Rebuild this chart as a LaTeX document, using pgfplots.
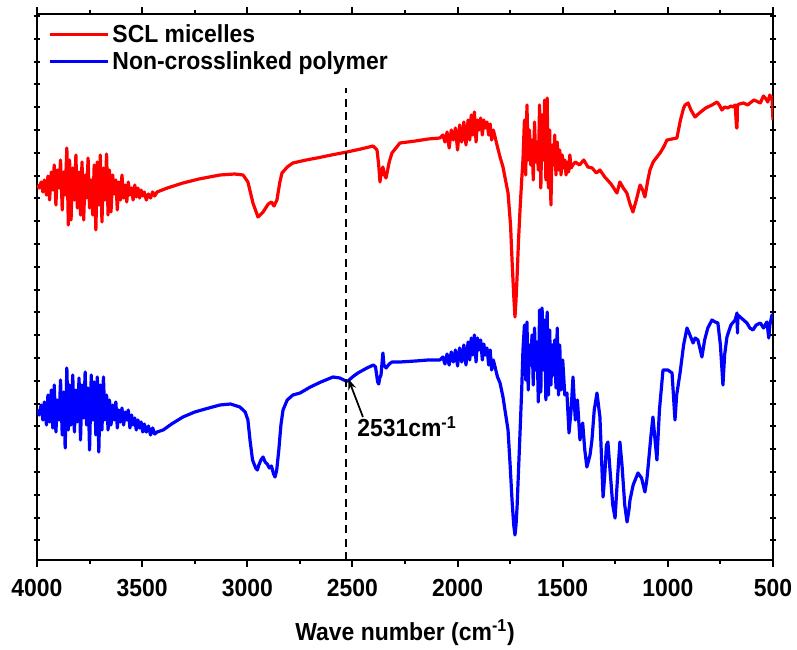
\documentclass[border=0pt]{standalone}
\usepackage{fontspec}
\setmainfont{Liberation Sans}[FakeStretch=0.93]
\usepackage{pgfplots}
\pgfplotsset{compat=1.18}
\usetikzlibrary{arrows.meta}
\begin{document}
\begin{tikzpicture}
\begin{axis}[
  scale only axis, width=552pt, height=409.5pt,
  at={(0,0)}, anchor=south west,
  x dir=reverse, xmin=500, xmax=4000, ymin=0, ymax=546,
  xtick={500,1000,...,4000}, minor x tick num=1,
  ytick={19.6,42.4,...,544}, yticklabels={},
  xtick align=outside, ytick align=center,
  major tick length=5pt, minor tick length=3pt,
  every tick/.style={black, line width=1.5pt},
  axis line style={line width=2.2pt},
  tick label style={font=\fontsize{18.5}{20}\selectfont\bfseries},
  xticklabel style={yshift=-6pt},
  /pgf/number format/assume math mode=true,
  /pgf/number format/set thousands separator={},
  label style={font=\fontsize{18.5}{20}\selectfont\bfseries},
  xlabel={Wave number (cm\textsuperscript{-1})},
  xlabel style={yshift=-10.5pt},
  legend style={draw=none, fill=none, at={(0,1)}, anchor=north west, xshift=5pt, yshift=-4pt,
    font=\fontsize{18.5}{20}\selectfont\bfseries, row sep=1pt, cells={anchor=west}},
  legend image code/.code={\draw[#1] (0pt,0pt) -- (44pt,0pt);},
  every axis plot/.append style={line width=2.4pt, line join=round},
]
% SCL micelles
\addplot[red] coordinates {
(4000,375)(3990,372)(3980,378)(3972,368)(3965,380)(3955,365)(3948,384)(3940,360)(3932,388)(3925,370)
(3918,395)(3910,355)(3903,390)(3895,372)(3888,400)(3880,350)(3873,388)(3866,365)(3858,412)(3851,335)
(3845,400)(3838,340)(3830,392)(3822,360)(3815,405)(3808,352)(3800,388)(3793,345)(3786,398)(3778,340)
(3771,385)(3764,362)(3757,402)(3750,352)(3742,380)(3735,345)(3728,395)(3720,330)(3713,398)(3706,355)
(3699,405)(3691,338)(3684,392)(3677,360)(3669,406)(3662,345)(3655,390)(3648,348)(3640,385)(3633,366)
(3625,380)(3618,350)(3611,378)(3603,360)(3596,385)(3588,362)(3580,375)(3573,358)(3566,378)(3558,365)
(3550,372)(3543,360)(3535,375)(3528,363)(3520,372)(3512,362)(3505,370)(3497,364)(3490,368)(3480,360)
(3470,366)(3460,362)(3450,368)(3440,364)
(3429,368)(3380,372)(3306,377)(3230,381)(3130,385)(3060,386)(3020,385)(2997,378)(2973,357)(2949,343)
(2925,348)(2900,356)(2885,358)(2873,354)(2859,360)(2845,378)(2835,387)(2810,393)(2783,397)(2720,400)
(2669,402)(2600,405)(2526,408)(2460,411)(2402,414)(2383,410)(2375,395)(2369,378)(2362,388)(2355,393)
(2348,385)(2340,382)(2325,398)(2312,407)(2274,417)(2200,419)(2140,421)(2084,422)
(2070,425)(2060,418)(2050,428)(2040,412)(2030,430)(2020,420)(2010,432)(2000,410)(1990,435)(1980,418)
(1970,438)(1960,415)(1950,440)(1942,420)(1935,445)(1928,425)(1920,448)(1912,418)(1905,440)(1898,430)
(1890,442)(1882,425)(1875,440)(1868,432)(1860,438)(1852,425)(1845,436)(1838,420)(1830,430)
(1810,413)(1798,403)(1784,393)(1760,367)(1748,335)(1741,300)(1733,265)(1727,243)(1722,260)(1717,283)
(1710,320)(1703,350)(1695,380)(1689,400)
(1682,440)(1676,385)(1670,455)(1664,400)(1658,430)(1652,395)(1646,420)(1640,380)(1634,438)(1628,398)
(1622,418)(1616,390)(1610,455)(1604,372)(1598,445)(1592,400)(1586,460)(1580,380)(1574,462)(1568,372)
(1562,430)(1556,355)(1550,415)(1544,395)(1538,425)(1532,385)(1526,418)(1520,390)(1514,410)(1508,385)
(1502,405)(1496,392)(1490,400)(1484,385)(1478,398)(1472,388)(1466,405)(1460,392)(1452,395)
(1440,398)(1420,395)(1400,400)(1380,393)(1360,392)(1340,387)(1323,390)(1300,383)(1270,376)(1242,367)
(1228,378)(1212,372)(1195,367)(1180,356)(1166,348)(1150,360)(1132,375)(1120,370)(1109,363)(1095,380)
(1085,390)(1070,398)(1052,403)(1037,407)(1020,413)(1004,420)(980,421)(957,422)(940,440)(925,452)
(918,455)(904,457)(890,450)(871,443)(850,447)(820,452)(790,455)(766,458)(755,455)(743,450)
(730,453)(715,452)(700,454)(690,453)(680,455)(673,432)(671,432)(669,455)(660,456)(640,457)
(620,455)(609,457)(590,460)(570,458)(560,457)(550,462)(545,464)(530,460)(525,458)(515,465)
(510,462)(505,463)(500,440)
};
\addlegendentry{SCL micelles}
% Non-crosslinked polymer
\addplot[blue] coordinates {
(4000,150)(3990,145)(3980,155)(3972,140)(3965,158)(3955,135)(3948,165)(3940,138)(3932,170)(3925,132)
(3918,175)(3910,128)(3903,160)(3895,140)(3888,180)(3880,125)(3873,168)(3866,112)(3858,192)(3851,130)
(3845,175)(3838,135)(3830,185)(3822,128)(3815,170)(3808,138)(3800,182)(3793,120)(3786,175)(3778,142)
(3771,188)(3764,135)(3757,172)(3750,110)(3742,185)(3735,140)(3728,178)(3720,125)(3713,183)(3706,108)
(3699,175)(3691,130)(3684,183)(3677,140)(3669,165)(3662,130)(3655,160)(3648,135)(3640,155)(3633,140)
(3625,158)(3618,132)(3611,150)(3603,138)(3596,152)(3588,135)(3580,148)(3573,140)(3566,150)(3558,132)
(3550,145)(3543,135)(3535,142)(3528,130)(3520,140)(3512,132)(3505,138)(3497,128)(3490,136)(3480,128)
(3470,134)(3460,125)(3450,132)(3440,126)(3429,128)
(3400,130)(3360,136)(3306,143)(3250,148)(3200,151)(3130,155)(3080,156)(3035,153)(3010,148)(2997,140)
(2987,120)(2975,100)(2960,92)(2952,90)(2945,95)(2935,100)(2925,103)(2915,98)(2905,96)(2895,92)
(2885,94)(2875,86)(2868,83)(2860,90)(2850,110)(2840,135)(2830,150)(2810,160)(2783,165)(2749,167)
(2700,173)(2650,178)(2592,183)(2560,182)(2531,179)(2521,179)(2500,183)(2474,187)(2431,192)(2400,195)
(2390,193)(2380,178)(2375,176)(2370,182)(2364,185)(2358,200)(2355,207)(2350,195)(2340,192)(2325,196)
(2312,198)(2274,198)(2200,199)(2140,200)(2084,200)
(2070,203)(2060,196)(2050,206)(2040,195)(2030,208)(2020,198)(2010,210)(2000,194)(1990,212)(1980,198)
(1970,215)(1960,195)(1950,218)(1942,200)(1935,222)(1928,205)(1920,225)(1912,198)(1905,222)(1898,210)
(1890,220)(1882,200)(1875,216)(1868,205)(1860,212)(1852,195)(1845,210)(1838,190)(1830,200)
(1810,183)(1798,177)(1784,163)(1760,130)(1750,95)(1741,60)(1733,35)(1727,25)(1722,35)(1717,53)
(1710,90)(1703,127)(1695,170)(1689,210)
(1682,235)(1676,180)(1670,238)(1664,170)(1658,215)(1652,195)(1646,225)(1640,175)(1634,232)(1628,190)
(1622,218)(1616,158)(1610,250)(1604,168)(1598,252)(1592,190)(1586,240)(1580,160)(1574,248)(1568,165)
(1562,230)(1556,175)(1550,215)(1544,185)(1538,220)(1532,172)(1526,232)(1520,165)(1514,215)(1508,170)
(1500,200)(1490,165)(1480,167)(1470,127)(1460,150)(1451,183)(1440,140)(1430,160)(1418,120)(1405,137)
(1395,110)(1385,93)(1370,105)(1361,120)(1350,150)(1337,167)(1330,155)(1323,143)(1315,100)(1308,63)
(1300,85)(1292,115)(1285,118)(1275,90)(1262,55)(1251,42)(1240,80)(1228,118)(1218,95)(1205,55)
(1194,38)(1185,50)(1180,60)(1165,75)(1142,87)(1125,82)(1109,68)(1100,80)(1094,93)(1080,125)
(1071,143)(1060,118)(1052,100)(1040,150)(1023,190)(1000,190)(980,187)(972,160)(966,140)(958,165)
(942,187)(925,215)(909,232)(895,225)(880,217)(870,222)(857,220)(848,212)(838,203)(825,220)
(810,232)(790,240)(775,238)(762,237)(750,215)(738,175)(730,205)(719,223)(700,235)(680,240)
(671,247)(669,227)(667,245)(640,240)(624,237)(610,232)(595,230)(580,235)(560,237)(545,232)
(529,238)(520,222)(515,235)(505,245)(500,240)
};
\addlegendentry{Non-crosslinked polymer}
\draw[black, line width=1.1pt, dash pattern=on 6pt off 4pt] (axis cs:2531,0) -- (axis cs:2531,472);
\draw[black, line width=1.3pt, -{Stealth[length=8pt,width=6pt]}] (axis cs:2450,143) -- (axis cs:2519,181);
\node[anchor=base west, inner sep=0pt, font=\fontsize{18.5}{20}\selectfont\bfseries] at (axis cs:2478,123) {2531cm\textsuperscript{-1}};
\end{axis}
\pgfresetboundingbox
\path[use as bounding box] (-27.75pt,-67.5pt) rectangle (570pt,420pt);
\end{tikzpicture}
\end{document}
